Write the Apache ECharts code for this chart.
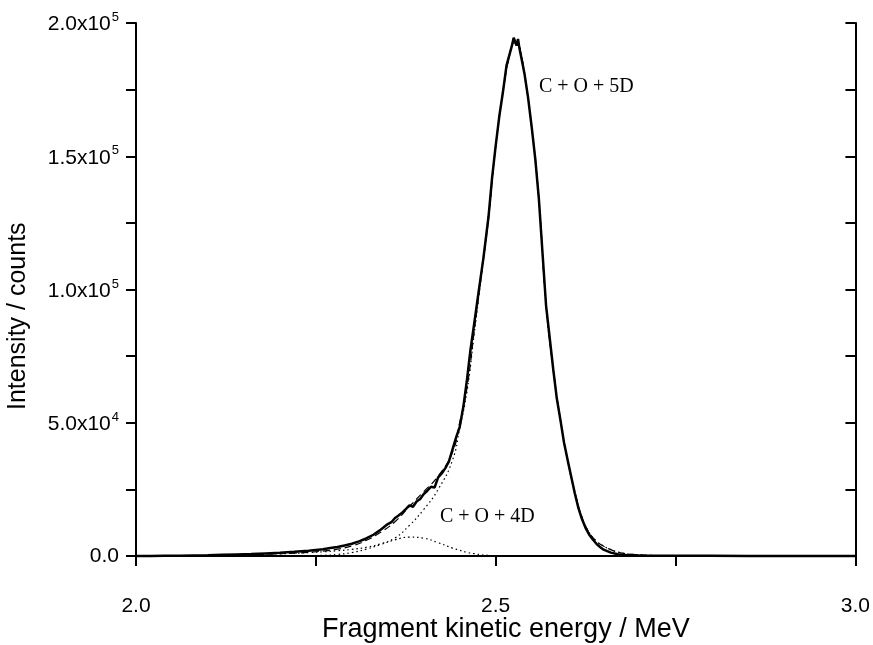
<!DOCTYPE html>
<html>
<head>
<meta charset="utf-8">
<script src="https://cdn.jsdelivr.net/npm/echarts@6/dist/echarts.min.js"></script>
<style>
  html, body { margin: 0; padding: 0; background: #fff; }
  #main { width: 873px; height: 645px; }
</style>
</head>
<body>
<div id="main"></div>
<script>
// measured spectrum (MeV, counts)
var dataEnergy = [
  2.000, 2.020, 2.040, 2.060, 2.080, 2.100, 2.120, 2.140, 2.160, 2.180,
  2.200, 2.220, 2.240, 2.250, 2.260, 2.270, 2.280, 2.290, 2.300, 2.310,
  2.320, 2.330, 2.340, 2.350, 2.355, 2.360, 2.365, 2.370, 2.375, 2.380,
  2.385, 2.390, 2.395, 2.400, 2.405, 2.410, 2.415, 2.420, 2.425, 2.430,
  2.435, 2.440, 2.445, 2.450, 2.455, 2.460, 2.465, 2.470, 2.476, 2.483,
  2.490, 2.495, 2.500, 2.505, 2.510, 2.515, 2.520, 2.523, 2.525, 2.527,
  2.529, 2.531, 2.533, 2.536, 2.540, 2.545, 2.550, 2.555, 2.560, 2.565,
  2.570, 2.575, 2.580, 2.585, 2.590, 2.595, 2.600, 2.605, 2.610, 2.615,
  2.620, 2.625, 2.630, 2.635, 2.640, 2.645, 2.650, 2.660, 2.670, 2.680,
  2.700, 2.750, 2.800, 2.850, 2.900, 2.950, 3.000
];
var dataCounts = [
  0, 50, 100, 150, 250, 300, 450, 600, 750, 1000,
  1250, 1600, 2000, 2300, 2600, 3000, 3400, 4000, 4600, 5500,
  6600, 8000, 9900, 12000, 12700, 14300, 15200, 16300, 17600, 19000,
  18500, 20500, 21400, 23300, 24500, 26000, 25700, 29500, 31000, 33000,
  35500, 40000, 44500, 48500, 56000, 66000, 77500, 87000, 98600, 112000,
  127300, 142000, 154000, 165000, 174000, 184000, 189000, 192000, 194500, 193000,
  191500, 194000, 190500, 186500, 181000, 172000, 161000, 149000, 134000, 114000,
  94000, 82000, 70000, 59000, 51000, 42500, 36000, 29800, 23500, 18000,
  13800, 10500, 8000, 6200, 4600, 3400, 2400, 1300, 700, 400,
  200, 100, 80, 50, 50, 30, 0
];

// fitted curves on a common energy grid
var fitEnergy = [
  2.00, 2.05, 2.10, 2.15, 2.20, 2.22, 2.24, 2.26, 2.28, 2.30,
  2.32, 2.34, 2.36, 2.38, 2.40, 2.42, 2.44, 2.45, 2.46, 2.47,
  2.48, 2.49, 2.50, 2.51, 2.52, 2.525, 2.53, 2.535, 2.54, 2.55,
  2.56, 2.57, 2.58, 2.59, 2.60, 2.61, 2.62, 2.63, 2.64, 2.65,
  2.66, 2.67, 2.68, 2.70, 2.72, 2.75, 2.80, 2.90, 3.00
];
var fit5D = [
  0, 100, 250, 500, 850, 1050, 1300, 1600, 2000, 2500,
  3300, 4600, 6800, 11500, 17500, 25000, 36000, 48000, 61600, 83100,
  105000, 126500, 153800, 174000, 189000, 192500, 192500, 188500, 181000, 161000,
  134000, 94000, 70000, 51000, 36000, 24000, 14500, 8800, 5600, 3700,
  2400, 1500, 950, 450, 200, 80, 20, 0, 0
];
var fit4D = [
  0, 0, 0, 0, 30, 60, 120, 280, 600, 1300,
  2600, 4300, 6100, 7100, 6700, 5000, 3000, 2200, 1400, 900,
  500, 280, 130, 60, 20, 10, 0, 0, 0, 0,
  0, 0, 0, 0, 0, 0, 0, 0, 0, 0,
  0, 0, 0, 0, 0, 0, 0, 0, 0
];
var fitTotal = [
  0, 100, 250, 500, 880, 1110, 1420, 1880, 2600, 3800,
  5900, 8900, 12900, 18600, 24200, 30000, 39000, 50200, 63000, 84000,
  105500, 126800, 153900, 174000, 189000, 192500, 192500, 188500, 181000, 161000,
  134000, 94000, 70000, 51000, 36000, 24000, 14500, 8800, 5600, 3700,
  2400, 1500, 950, 450, 200, 80, 20, 0, 0
];

var xTickValues = [2.0, 2.25, 2.5, 2.75, 3.0];
var xLabelValues = [2.0, 2.5, 3.0];
var xLabelText = ['2.0', '2.5', '3.0'];
var yTickValues = [0, 25000, 50000, 75000, 100000, 125000, 150000, 175000, 200000];
var yLabelValues = [0, 50000, 100000, 150000, 200000];
var yLabelBase = ['0.0', '5.0x10', '1.0x10', '1.5x10', '2.0x10'];
var yLabelPower = ['', '4', '5', '5', '5'];

function pairs(xs, ys) {
  return xs.map(function (x, i) { return [x, ys[i]]; });
}

var sans = 'Liberation Sans, Arial, sans-serif';
var serif = 'Liberation Serif, Times New Roman, serif';

var chart = echarts.init(document.getElementById('main'));
var option = {
  backgroundColor: '#fff',
  animation: false,
  grid: { left: 136, right: 13, top: 23, bottom: 82 },
  xAxis: [{
    type: 'value', min: 2.0, max: 3.0, position: 'bottom',
    axisLine: { lineStyle: { color: '#000', width: 2 } },
    axisTick: { show: true, customValues: xTickValues, inside: false, length: 10, lineStyle: { color: '#000', width: 2 } },
    axisLabel: {
      customValues: xLabelValues, margin: 33, color: '#000',
      formatter: function (v) {
        var i = xLabelValues.indexOf(v);
        return i < 0 ? '' : '{b|' + xLabelText[i] + '}';
      },
      rich: { b: { fontFamily: sans, fontSize: 21, color: '#000' } }
    },
    splitLine: { show: false }
  }, {
    type: 'value', min: 2.0, max: 3.0, position: 'top',
    axisLine: { lineStyle: { color: '#000', width: 2 } },
    axisTick: { show: false }, axisLabel: { show: false }, splitLine: { show: false }
  }],
  yAxis: [{
    type: 'value', min: -2600, max: 200000, position: 'left',
    axisLine: { lineStyle: { color: '#000', width: 2 } },
    axisTick: { show: true, customValues: yTickValues, inside: false, length: 10, lineStyle: { color: '#000', width: 2 } },
    axisLabel: {
      customValues: yLabelValues, margin: 17, color: '#000',
      formatter: function (v) {
        var i = yLabelValues.indexOf(v);
        if (i < 0) return '';
        if (!yLabelPower[i]) return '{b|' + yLabelBase[i] + '}';
        return '{b|' + yLabelBase[i] + '}{s|' + yLabelPower[i] + '}';
      },
      rich: {
        b: { fontFamily: sans, fontSize: 21, color: '#000', verticalAlign: 'bottom' },
        s: { fontFamily: sans, fontSize: 13, color: '#000', verticalAlign: 'bottom', padding: [0, 0, 11, 1] }
      }
    },
    splitLine: { show: false }
  }, {
    type: 'value', min: -2600, max: 200000, position: 'right',
    axisLine: { lineStyle: { color: '#000', width: 2 } },
    axisTick: { show: true, customValues: yTickValues, inside: true, length: 10, lineStyle: { color: '#000', width: 2 } },
    axisLabel: { show: false }, splitLine: { show: false }
  }],
  graphic: [
    { type: 'text', left: 322, top: 616, style: { text: 'Fragment kinetic energy / MeV', fontFamily: sans, fontSize: 27, fill: '#000' } },
    { type: 'text', x: 6, y: 410, rotation: Math.PI / 2, style: { text: 'Intensity / counts', fontFamily: sans, fontSize: 25, fill: '#000' } },
    { type: 'text', left: 539, top: 77, style: { text: 'C + O + 5D', fontFamily: serif, fontSize: 20, fill: '#000' } },
    { type: 'text', left: 440, top: 507, style: { text: 'C + O + 4D', fontFamily: serif, fontSize: 20, fill: '#000' } }
  ],
  series: [
    {
      name: '4D', type: 'line', showSymbol: false, smooth: true, z: 2,
      data: pairs(fitEnergy, fit4D),
      lineStyle: { color: '#000', width: 1.2, type: [1.5, 3] }
    },
    {
      name: '5D', type: 'line', showSymbol: false, smooth: true, z: 2,
      data: pairs(fitEnergy, fit5D),
      lineStyle: { color: '#000', width: 1.2, type: [1.5, 3] }
    },
    {
      name: 'fit', type: 'line', showSymbol: false, smooth: true, z: 3,
      data: pairs(fitEnergy, fitTotal),
      lineStyle: { color: '#000', width: 1.2, type: [7, 4] }
    },
    {
      name: 'data', type: 'line', showSymbol: false, z: 4,
      data: pairs(dataEnergy, dataCounts),
      lineStyle: { color: '#000', width: 2.5 }
    }
  ]
};
chart.setOption(option);
</script>
</body>
</html>
